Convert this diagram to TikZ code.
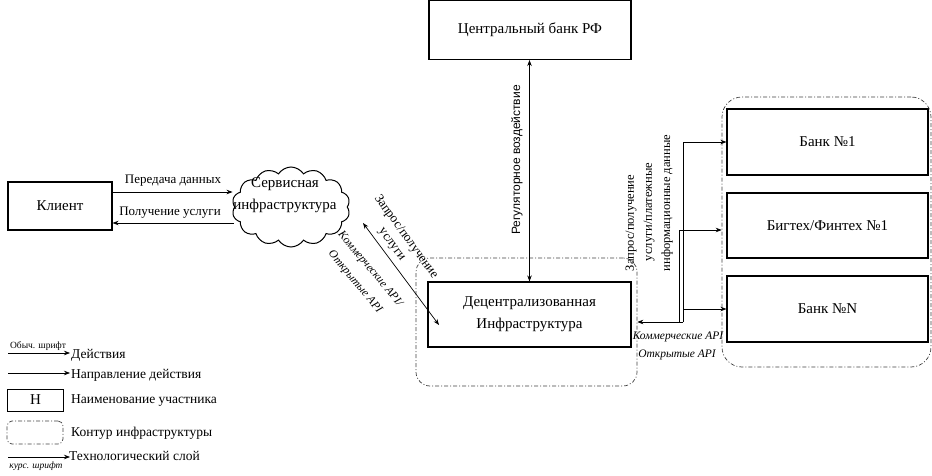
\documentclass[tikz,border=0pt]{standalone}
\usepackage{fontspec}
\setmainfont{Liberation Serif}
\newfontfamily\sansf{Liberation Sans}
\usetikzlibrary{arrows.meta,shapes.symbols,calc}
\tikzset{
  box/.style={draw, line width=1.1pt, inner sep=0pt, font=\fontsize{15}{18}\selectfont},
  contour/.style={draw=black!75, line width=0.7pt, dash pattern=on 4pt off 2pt on 1pt off 2pt, rounded corners=14pt, inner sep=0pt},
  arr/.style={-{Stealth[length=6pt,width=4.5pt]}, line width=0.7pt},
  darr/.style={{Stealth[length=6pt,width=4.5pt]}-{Stealth[length=6pt,width=4.5pt]}, line width=0.7pt},
  lbl/.style={font=\fontsize{13}{16}\selectfont, inner sep=0pt},
  ilbl/.style={font=\fontsize{11.5}{17}\selectfont\itshape, inner sep=0pt},
  vlbl/.style={font=\fontsize{12.5}{15}\selectfont, inner sep=0pt, rotate=90},
  leg/.style={font=\fontsize{13.5}{16}\selectfont, inner sep=0pt, anchor=west},
  tiny/.style={font=\fontsize{9.5}{11}\selectfont, inner sep=0pt},
}
\begin{document}
\begin{tikzpicture}[x=1pt,y=-1pt]
\useasboundingbox (0,0) rectangle (932,476);
% nodes
\node[box, minimum width=202pt, minimum height=59pt] (cb) at (530,30) {Центральный банк РФ};
\node[box, minimum width=104pt, minimum height=48pt] (client) at (60,206) {Клиент};
\node[cloud, draw, line width=1pt, cloud puffs=14, cloud puff arc=115, cloud ignores aspect, minimum width=118pt, minimum height=80pt, inner sep=0pt] (cloud) at (291,207) {};
\node[font=\fontsize{15}{22}\selectfont, align=center, inner sep=0pt] (cloudtxt) at (285,195) {Сервисная\\инфраструктура};
\node[box, minimum width=203pt, minimum height=65pt, align=center, font=\fontsize{15}{22}\selectfont] (dec) at (529.5,314.5) {Децентрализованная\\Инфраструктура};
\node[contour, minimum width=221pt, minimum height=128pt] (decc) at (526.5,322) {};
\node[box, minimum width=201pt, minimum height=66pt] (bank1) at (827.5,142) {Банк №1};
\node[box, minimum width=201pt, minimum height=65pt] (big) at (827.5,225.5) {Бигтех/Финтех №1};
\node[box, minimum width=201pt, minimum height=66pt] (bankN) at (827.5,309) {Банк №N};
\node[contour, rounded corners=20pt, minimum width=209pt, minimum height=270pt] (rc) at (826.5,232) {};
% client <-> cloud
\draw[arr] ([yshift=14pt]client.east) -- ++(120,0) coordinate (c1);
\draw[arr] ([yshift=-17pt]client.east -| cloud.west) -- ([yshift=-17pt]client.east);
\node[lbl] (l1) at (173,181) {Передача данных};
\node[lbl] (l2) at (170,213) {Получение услуги};
% cb <-> dec
\draw[darr] (cb.south -| dec.north) -- (dec.north);
\node[font=\sansf\fontsize{12}{14}\selectfont, rotate=90, inner sep=0pt] (reg) at (517,160) {Регуляторное воздействие};
% cloud <-> dec
\coordinate (d1) at (363,223);
\coordinate (d2) at (439,325);
\draw[darr] (d1) -- (d2);
\node[lbl, rotate=-54] (q1a) at (406,237) {Запрос/получение};
\node[lbl, rotate=-54] (q1b) at (391,245) {услуги};
\node[ilbl, rotate=-50] (api1a) at (370,269) {Коммерческие API/};
\node[ilbl, rotate=-50] (api1b) at (355,282) {Открытые API};
% right connectors
\coordinate (j) at (683,322);
\coordinate (j2) at (679,322);
\draw[arr] (j) -- (j -| decc.east);
\draw[arr] (j) |- (bank1.west);
\draw[arr] (j |- bankN.west) -- (bankN.west);
\draw[arr] (j2) |- ([yshift=-4.5pt]big.west -| rc.west);
\node[vlbl] (q2a) at (631,223) {Запрос/получение};
\node[vlbl] (q2b) at (649,212) {услуги/платежные};
\node[vlbl] (q2c) at (667,203) {информационные данные};
\node[ilbl] (api2) at (678,337) {Коммерческие API};
\node[ilbl] (api3) at (677,355) {Открытые API};
% legend
\coordinate (a1s) at (8,353); \coordinate (a1e) at (70,353);
\draw[arr] (a1s) -- (a1e);
\node[tiny] (t1) at (38,346) {Обыч. шрифт};
\node[leg] (lg1) at (71,355) {Действия};
\coordinate (a2s) at (8,373); \coordinate (a2e) at (70,373);
\draw[arr] (a2s) -- (a2e);
\node[leg] (lg2) at (71,375) {Направление действия};
\node[box, line width=0.9pt, minimum width=56pt, minimum height=22pt] (lgbox) at (35.5,400) {Н};
\node[leg] (lg3) at (71,401) {Наименование участника};
\node[contour, rounded corners=5pt, minimum width=56pt, minimum height=23pt] (lgc) at (35,432.5) {};
\node[leg] (lg4) at (71,433) {Контур инфраструктуры};
\coordinate (a5s) at (8,457); \coordinate (a5e) at (70,457);
\draw[arr] (a5s) -- (a5e);
\node[tiny, font=\fontsize{9.5}{11}\selectfont\itshape] (t5) at (36,466) {курс. шрифт};
\node[leg] (lg5) at (69,456) {Технологический слой};
\end{tikzpicture}
\end{document}
